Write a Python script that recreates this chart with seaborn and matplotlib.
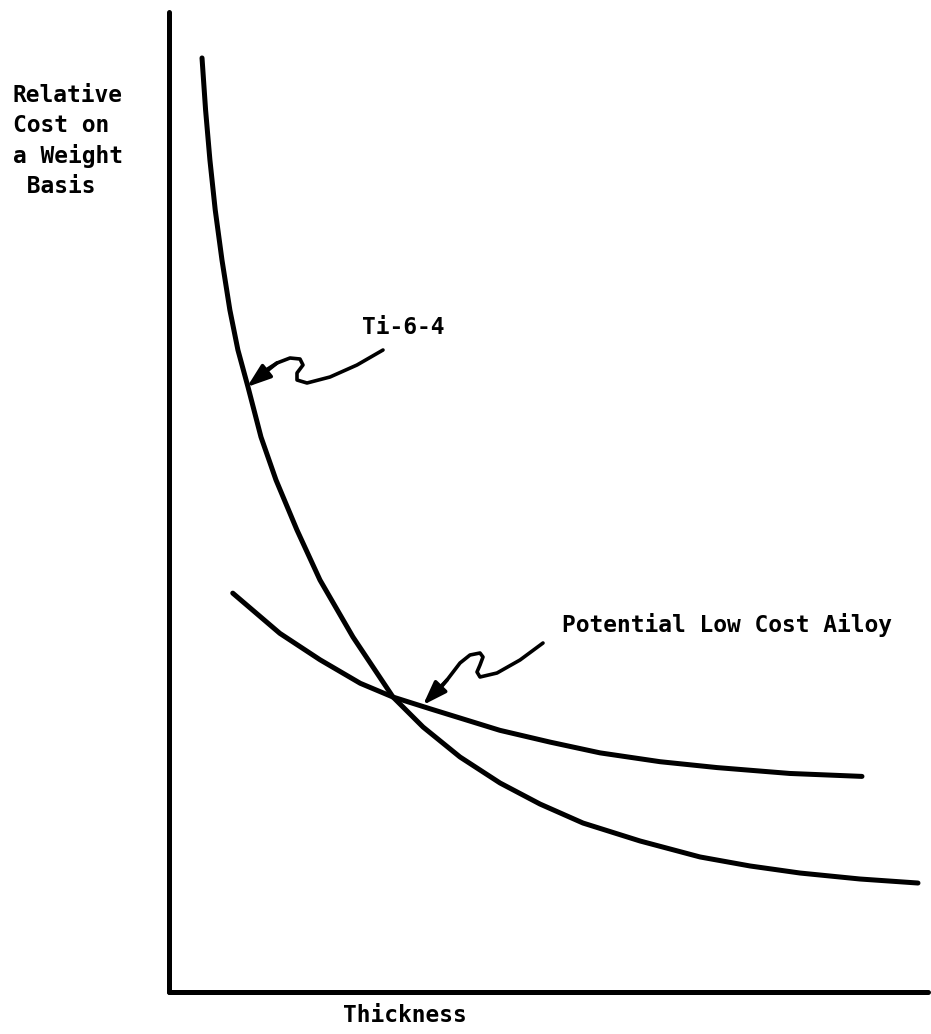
import matplotlib
matplotlib.use("Agg")
import matplotlib.pyplot as plt
import seaborn as sns
import pandas as pd

# ---- data (relative units) ----
ti_thickness = [4.35, 4.82, 5.39, 6.09, 6.98, 8.02, 9.08, 10.41, 12.12, 14.10, 16.86, 19.89,
                24.24, 29.51, 33.47, 38.34, 43.61, 48.88, 54.55, 62.06, 69.96, 76.55, 83.14,
                91.04, 98.68]
ti_cost      = [95.31, 90.0, 84.90, 79.80, 74.69, 69.59, 65.51, 61.73, 56.63, 52.24, 47.14, 42.04,
                36.22, 30.10, 27.04, 23.98, 21.33, 19.18, 17.24, 15.41, 13.78, 12.86, 12.14,
                11.53, 11.12]
lc_thickness = [8.4, 14.6, 19.9, 25.2, 29.5, 34.4, 43.6, 50.2, 56.8, 64.7, 72.2, 81.8, 91.3]
lc_cost      = [40.7, 36.6, 33.9, 31.5, 30.1, 28.9, 26.7, 25.5, 24.4, 23.5, 22.9, 22.3, 22.0]

series_labels = ["Ti-6-4", "Potential Low Cost Ailoy"]
x_label = "Thickness"
y_label = "Relative\nCost on\na Weight\n Basis"

W, H = 931, 1034
ax_l, ax_r, ax_t, ax_b = 169, 928, 12, 992


def px2d(px, py):
    return ((px - ax_l) / (ax_r - ax_l) * 100, (ax_b - py) / (ax_b - ax_t) * 100)


sns.set_style("white")
plt.rcParams['font.family'] = ['DejaVu Sans Mono', 'DejaVu Sans']

fig = plt.figure(figsize=(W / 100, H / 100), dpi=100)
ax = fig.add_axes([ax_l / W, 1 - ax_b / H, (ax_r - ax_l) / W, (ax_b - ax_t) / H])

df = pd.concat([
    pd.DataFrame({"Thickness": ti_thickness, "Cost": ti_cost, "Alloy": series_labels[0]}),
    pd.DataFrame({"Thickness": lc_thickness, "Cost": lc_cost, "Alloy": series_labels[1]}),
])
sns.lineplot(data=df, x="Thickness", y="Cost", units="Alloy", estimator=None,
             sort=False, color="black", lw=3.6, ax=ax, legend=False,
             solid_capstyle="round", solid_joinstyle="round")

ax.set_xlim(0, 100)
ax.set_ylim(0, 100)
ax.set_xticks([])
ax.set_yticks([])
ax.set_xlabel("")
ax.set_ylabel("")
for s in ["top", "right"]:
    ax.spines[s].set_visible(False)
for s in ["left", "bottom"]:
    ax.spines[s].set_linewidth(3.6)
    ax.spines[s].set_color("black")
    ax.spines[s].set_capstyle("round")


def squiggle_arrow(pts):
    d = [px2d(*p) for p in pts]
    xs, ys = zip(*d[:-1])
    ax.plot(xs, ys, color="black", lw=2.6, solid_capstyle="round", solid_joinstyle="round")
    ax.annotate("", xy=d[-1], xytext=d[-3],
                arrowprops=dict(arrowstyle="-|>,head_length=0.8,head_width=0.28",
                                color="black", lw=2.6, mutation_scale=18,
                                shrinkA=0, shrinkB=0))


squiggle_arrow([(383, 350), (357, 365), (330, 377), (307, 383), (297, 380), (297, 373),
                (303, 365), (300, 359), (290, 358), (277, 363), (263, 372), (247, 387)])
squiggle_arrow([(543, 643), (520, 660), (497, 673), (480, 677), (477, 672), (480, 665),
                (483, 657), (480, 653), (470, 655), (460, 663), (447, 680), (433, 697), (423, 705)])

fs = 16.5
kw = dict(fontsize=fs, fontweight="bold", color="black")
fig.text(362 / W, 1 - 328 / H, series_labels[0], va="center", ha="left", **kw)
fig.text(562 / W, 1 - 625 / H, series_labels[1], va="center", ha="left", **kw)
fig.text(13 / W, 1 - 84 / H, y_label, va="top", ha="left", linespacing=1.38, **kw)
fig.text(405 / W, 1 - 1015 / H, x_label, va="center", ha="center", **kw)

fig.savefig("out.png", dpi=100, facecolor="white")
